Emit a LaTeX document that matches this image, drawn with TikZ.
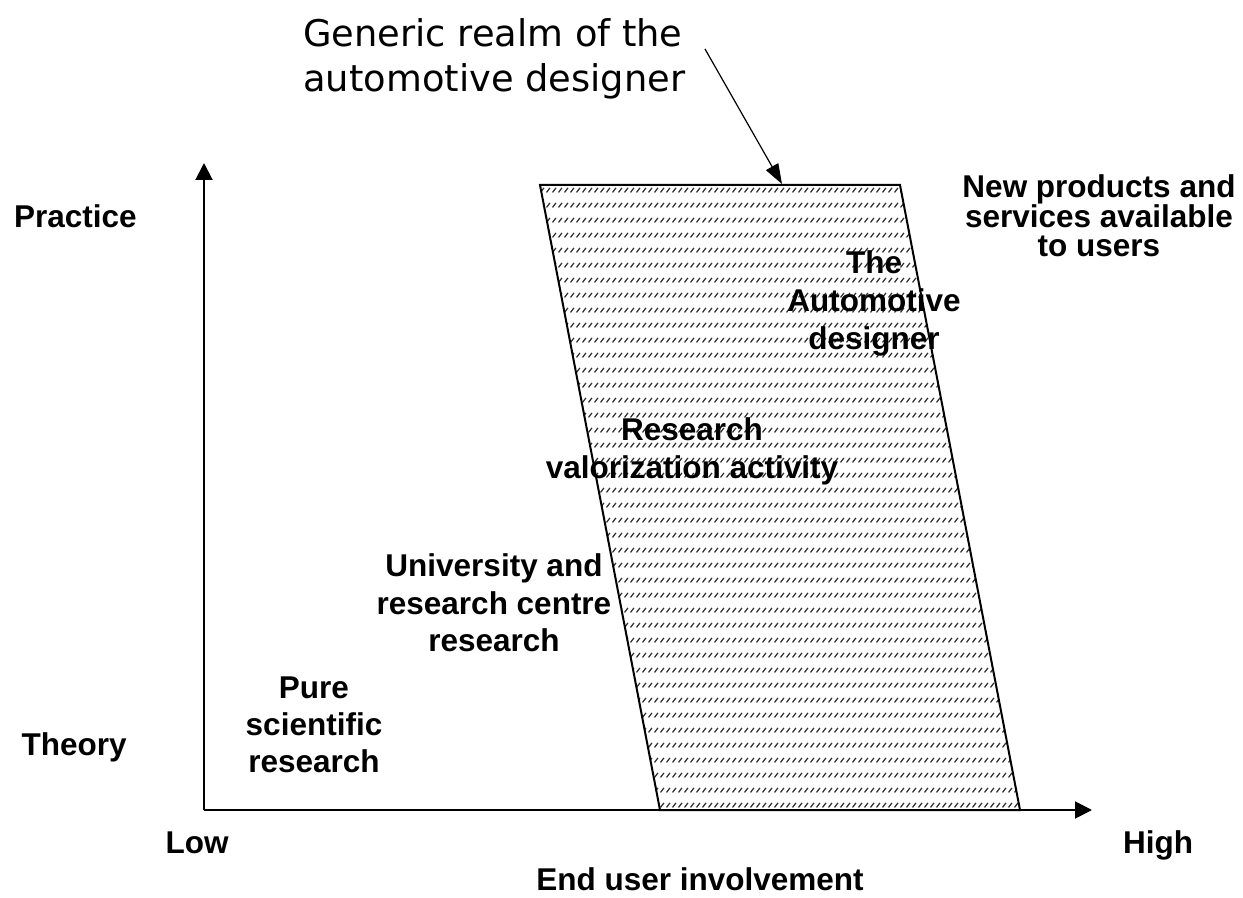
\documentclass[tikz,border=0pt]{standalone}
\usepackage{fontspec}
\setmainfont{Liberation Sans}
\newfontfamily\genfont{DejaVu Sans}
\usetikzlibrary{arrows.meta,patterns}
\pgfdeclarepatternformonly{dashdiag}{\pgfqpoint{0pt}{0pt}}{\pgfqpoint{3pt}{7.5pt}}{\pgfqpoint{3pt}{7.5pt}}{%
  \pgfsetlinewidth{0.7pt}%
  \pgfpathmoveto{\pgfqpoint{0.3pt}{0.3pt}}%
  \pgfpathlineto{\pgfqpoint{2.3pt}{2.7pt}}%
  \pgfusepath{stroke}}
% stacked lines: #1 = baseline distance, #2 = lines separated by \cr
\newcommand{\cstack}[2]{\vtop{\baselineskip=#1\lineskiplimit=-20pt\lineskip=0pt\halign{\hfil##\hfil\cr#2\cr}}}
\newcommand{\lstack}[2]{\vtop{\baselineskip=#1\lineskiplimit=-20pt\lineskip=0pt\halign{##\hfil\cr#2\cr}}}
\tikzset{
  lbl/.style={font=\bfseries\fontsize{15.75}{19}\selectfont, inner sep=0pt, anchor=base},
  genlbl/.style={font=\genfont\fontsize{18.4}{22.5}\selectfont, inner sep=0pt, anchor=base west},
  axis/.style={line width=1pt, -{Triangle[length=8.5pt,width=8.5pt]}},
  realm/.style={line width=1pt, pattern=dashdiag, pattern color=black!80},
  pointer/.style={line width=0.6pt, -{Triangle[length=10pt,width=7pt]}}
}
\begin{document}
\begin{tikzpicture}[x=0.5pt,y=-0.5pt]
\path[use as bounding box] (0,0) rectangle (1243,898);
% realm parallelogram
\coordinate (tl) at (540,185);
\coordinate (tr) at (900,185);
\coordinate (br) at (1020,810);
\coordinate (bl) at (660,810);
\draw[realm] (tl) -- (tr) -- (br) -- (bl) -- cycle;
% axes
\coordinate (O) at (204,810);
\coordinate (Ytop) at (204,163);
\coordinate (Xend) at (1092,810);
\draw[axis] (O) -- (Ytop);
\draw[axis] (O) -- (Xend);
% title text and pointer
\node[genlbl] (generic) at (303,47) {\lstack{22.5pt}{Generic realm of the\cr automotive designer}};
\coordinate (pstart) at (705,49);
\coordinate (ptip) at (782,184);
\draw[pointer] (pstart) -- (ptip);
% axis labels
\node[lbl, anchor=base east] (practice) at (137,228) {Practice};
\node[lbl, anchor=base east] (theory) at (127,755) {Theory};
\node[lbl] (low) at (197,853) {Low};
\node[lbl] (high) at (1158,853) {High};
\node[lbl] (enduser) at (700,890) {End user involvement};
% region labels
\node[lbl] (newprod) at (1099,198) {\cstack{14.75pt}{New products and\cr services available\cr to users}};
\node[lbl] (auto) at (874,274) {\cstack{19pt}{The\cr Automotive\cr designer}};
\node[lbl] (valor) at (692,441) {\cstack{19pt}{Research\cr valorization activity}};
\node[lbl] (univ) at (494,577) {\cstack{18.7pt}{University and\cr research centre\cr research}};
\node[lbl] (pure) at (314,698) {\cstack{18.7pt}{Pure\cr scientific\cr research}};
\end{tikzpicture}
\end{document}
